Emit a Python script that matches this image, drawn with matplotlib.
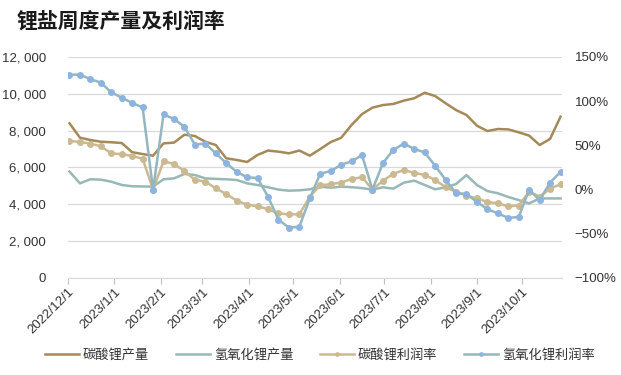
import matplotlib
matplotlib.use("Agg")
import matplotlib.pyplot as plt
import matplotlib.dates as mdates
from matplotlib.ticker import FuncFormatter, MultipleLocator
import pandas as pd

plt.rcParams['font.family'] = ['Liberation Sans', 'Noto Sans CJK SC']
plt.rcParams['axes.unicode_minus'] = True

# --- Daten (wöchentlich) ---
dates = pd.date_range("2022-12-02", periods=48, freq="7D")

carb_prod = [8400, 7620, 7490, 7400, 7370, 7330, 6830, 6730, 6640, 7310,
             7350, 7780, 7710, 7400, 7220, 6500, 6410, 6300, 6680, 6920,
             6860, 6770, 6920, 6640, 7000, 7380, 7610, 8310, 8900, 9250,
             9390, 9450, 9630, 9760, 10060, 9880, 9490, 9120, 8850, 8270,
             7980, 8090, 8070, 7910, 7730, 7220, 7550, 8760]

hydr_prod = [5775, 5140, 5360, 5340, 5230, 5050, 4980, 4970, 4960, 5360,
             5410, 5650, 5590, 5410, 5380, 5360, 5320, 5140, 5050, 4925,
             4800, 4740, 4760, 4815, 4960, 4900, 4960, 4930, 4880, 4800,
             4925, 4850, 5175, 5285, 5050, 4815, 4925, 5100, 5590, 5050,
             4720, 4600, 4400, 4230, 4050, 4320, 4320, 4320]

carb_margin = [55, 54, 52, 49, 41, 40, 38, 35, 0, 32,
               29, 21, 11, 9, 1.5, -5, -12.5, -17, -19, -22,
               -27, -28, -28, -8, 5, 6, 8, 12, 14, 0,
               10, 18, 22, 19, 16.5, 11, 2.6, -2.4, -7, -10,
               -14, -15.5, -19, -18, -2.4, -8, 1, 6]

hydr_margin = [130, 130, 125, 121, 110, 104, 98, 93, 0, 85,
               80, 71, 51, 52, 41, 30, 20, 14, 13, -8,
               -34, -43, -42, -10, 18, 21, 28, 32, 39, 0,
               30, 45, 52, 46, 42, 27, 11, -4, -5, -14,
               -22, -27, -32, -31, 0, -12, 8, 20]

month_ticks = pd.date_range("2022-12-01", "2023-10-01", freq="MS")

# --- Farben ---
c_carb = '#A58A58'
c_hydr = '#98B8B6'
c_carb_m = '#CBB992'
c_hydr_m_line = '#94B6BE'
c_hydr_m_dot = '#8DB4E0'
c_text = '#333333'


def fmt_left(v, pos):
    return f"{int(v):,}".replace(",", ", ")


def fmt_right(v, pos):
    return f"{int(v)}%".replace("-", "\u2212")


def fmt_date(v, pos):
    d = mdates.num2date(v)
    return f"{d.year}/{d.month}/{d.day}"


fig = plt.figure(figsize=(6.21, 3.75), dpi=100)
ax = fig.add_axes([0.1095, 0.2587, 0.7955, 0.5893])
ax2 = ax.twinx()

l1, = ax.plot(dates, carb_prod, color=c_carb, lw=1.8, label='碳酸锂产量', zorder=3)
l2, = ax.plot(dates, hydr_prod, color=c_hydr, lw=1.8, label='氢氧化锂产量', zorder=3)
l3, = ax2.plot(dates, carb_margin, color=c_carb_m, lw=1.8, marker='o', ms=4,
               mfc=c_carb_m, mec=c_carb_m, label='碳酸锂利润率', zorder=3)
l4, = ax2.plot(dates, hydr_margin, color=c_hydr_m_line, lw=1.8, marker='o', ms=4,
               mfc=c_hydr_m_dot, mec=c_hydr_m_dot, label='氢氧化锂利润率', zorder=4)

ax.set_ylim(0, 12000)
ax.yaxis.set_major_locator(MultipleLocator(2000))
ax.yaxis.set_major_formatter(FuncFormatter(fmt_left))
ax2.set_ylim(-100, 150)
ax2.yaxis.set_major_locator(MultipleLocator(50))
ax2.yaxis.set_major_formatter(FuncFormatter(fmt_right))

ax.set_xlim(pd.Timestamp("2022-12-01"), pd.Timestamp("2023-10-28"))
ax.set_xticks(month_ticks)
ax.xaxis.set_major_formatter(FuncFormatter(fmt_date))
plt.setp(ax.get_xticklabels(), rotation=45, ha='right', rotation_mode='anchor')

ax.grid(axis='y', color='#D9D9D9', lw=0.9)
ax.set_axisbelow(True)
for a in (ax, ax2):
    for s in ('top', 'left', 'right', 'bottom'):
        a.spines[s].set_visible(False)
ax.spines['bottom'].set_visible(True)
ax.spines['bottom'].set_color('#D9D9D9')

ax.tick_params(axis='y', length=0, labelsize=9.5, labelcolor=c_text, pad=16)
ax2.tick_params(axis='y', length=0, labelsize=9.5, labelcolor=c_text, pad=9)
ax.tick_params(axis='x', length=4, color='#BFBFBF', labelsize=9.5, labelcolor=c_text, pad=2)

fig.text(0.027, 0.945, '锂盐周度产量及利润率', fontsize=15, fontweight='bold',
         color='#1a1a1a', va='center', family=['Noto Sans CJK SC', 'DejaVu Sans'])

leg = fig.legend(handles=[l1, l2, l3, l4], loc='center', bbox_to_anchor=(0.515, 0.053),
                 ncol=4, frameon=False, handlelength=2.6, columnspacing=2.0,
                 handletextpad=0.3, markerscale=0.6,
                 prop={'family': ['Noto Sans CJK SC'], 'size': 9.5})
for t in leg.get_texts():
    t.set_color(c_text)

fig.savefig("out.png", dpi=100)
